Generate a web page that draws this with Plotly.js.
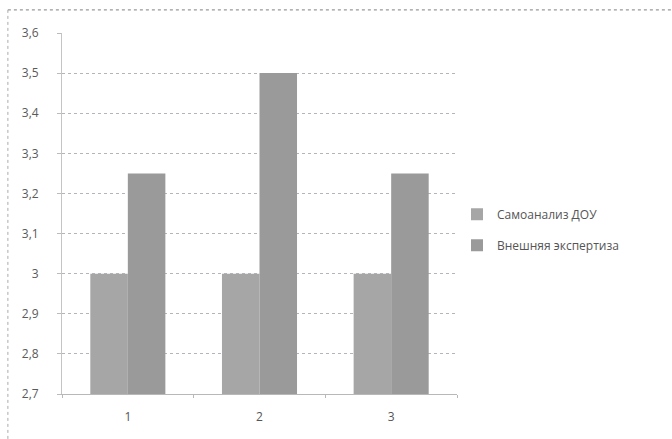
<!DOCTYPE html>
<html><head><meta charset="utf-8">
<script src="https://cdn.plot.ly/plotly-3.0.1.min.js"></script>
<style>html,body{margin:0;padding:0;background:#fff}#chart{width:672px;height:439px}</style>
</head><body><div id="chart"></div>
<script>
const categories = ['1', '2', '3'];
const seriesNames = ['Самоанализ ДОУ', 'Внешняя экспертиза'];
const selfAnalysis = [3, 3, 3];
const externalExpertise = [3.25, 3.5, 3.25];
const yTicks = [2.7, 2.8, 2.9, 3.0, 3.1, 3.2, 3.3, 3.4, 3.5, 3.6];

const font = {family: 'Open Sans, Liberation Sans, sans-serif', size: 11, color: '#5a5a5a'};
const traces = [
  {type: 'bar', x: categories, y: selfAnalysis, name: seriesNames[0], legendgroup: 'a',
   marker: {color: '#a6a6a6', line: {width: 0}}},
  {type: 'bar', x: categories, y: externalExpertise, name: seriesNames[1], legendgroup: 'b',
   marker: {color: '#9a9a9a', line: {width: 0}}}
];
const layout = {
  width: 672, height: 439,
  margin: {l: 62, r: 215, t: 33, b: 45},
  paper_bgcolor: '#ffffff', plot_bgcolor: '#ffffff',
  separators: ', ',
  font: font,
  barmode: 'group', bargap: 0.43, bargroupgap: 0,
  showlegend: true,
  legend: {x: 1.0, y: 0.455, xanchor: 'left', yanchor: 'middle',
           traceorder: 'grouped', tracegroupgap: 12,
           font: {family: 'Open Sans, Liberation Sans, sans-serif', size: 12, color: '#555'},
           itemwidth: 30},
  xaxis: {type: 'category', showline: true, linecolor: '#b8b8b8', linewidth: 1,
          ticks: 'outside', tickson: 'boundaries', ticklen: 3, tickcolor: '#b8b8b8',
          ticklabelstandoff: 12,
          showgrid: false, tickfont: {size: 12, color: '#555'}, fixedrange: true},
  yaxis: {range: [2.7, 3.6], tickvals: yTicks, showline: true, linecolor: '#c4c4c4', griddash: 'dot',
          showgrid: true, gridcolor: '#b4b4bc', gridwidth: 1, zeroline: false,
          ticks: 'outside', ticklen: 4, tickcolor: '#bbb', tickfont: {size: 12, color: '#5a5a5a'},
          ticklabelstandoff: 16,
          fixedrange: true},
  shapes: [
    {type: 'line', xref: 'paper', yref: 'paper', x0: -0.137, x1: 1.6, y0: 1.064, y1: 1.064,
     line: {color: '#999', width: 1.2, dash: 'dot'}},
    {type: 'line', xref: 'paper', yref: 'paper', x0: -0.137, x1: -0.137, y0: 1.064, y1: -0.2,
     line: {color: '#aaa', width: 1, dash: 'dot'}}
  ]
};
Plotly.newPlot('chart', traces, layout, {displayModeBar: false, staticPlot: true});
</script></body></html>
